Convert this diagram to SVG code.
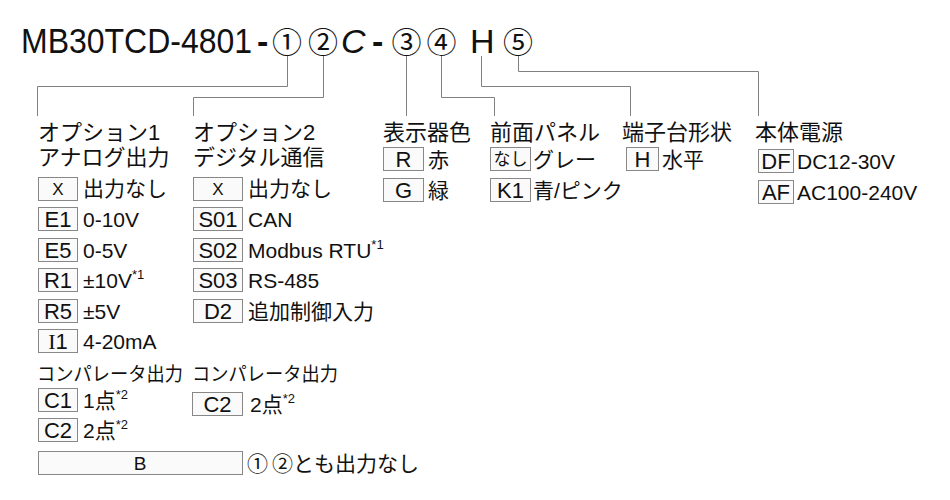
<svg xmlns="http://www.w3.org/2000/svg" width="950" height="500" viewBox="0 0 950 500">
<style>
.t{font-family:"Liberation Sans","Noto Sans CJK JP",sans-serif;font-size:21px;fill:#111}
.h{font-family:"Liberation Sans","Noto Sans CJK JP",sans-serif;font-size:22px;fill:#111}
.ti{font-family:"Liberation Sans",sans-serif;font-size:34px;fill:#111}
.cn{font-family:"Noto Sans CJK JP",sans-serif;font-size:30px;fill:#111;text-anchor:middle}
.bx{fill:#fafafa;stroke:#888;stroke-width:1}
.bl{font-family:"Liberation Sans","Noto Sans CJK JP",sans-serif;font-size:22px;fill:#111;text-anchor:middle}
.sm{font-size:17px}
.cmp{font-size:19px}
.sup{font-size:13px}
.ln{fill:none;stroke:#808080;stroke-width:1}
</style>
<rect width="950" height="500" fill="#fff"/>
<g id="title">
<text class="ti" x="0" y="0" style="font-size:32px" transform="translate(21,53) scale(1,1.1)">MB30TCD-4801</text>
<text class="ti" x="257" y="53" font-weight="bold">-</text>
<text class="cn" x="287" y="53">①</text>
<text class="cn" x="323" y="53">②</text>
<text class="ti" x="341" y="53" font-style="italic">C</text>
<text class="ti" x="372" y="53" font-weight="bold">-</text>
<text class="cn" x="406.5" y="53">③</text>
<text class="cn" x="441.5" y="53">④</text>
<text class="ti" x="470" y="53">H</text>
<text class="cn" x="518" y="53">⑤</text>
</g>
<g id="connectors">
<path class="ln" d="M287.5,56 V86.5 H37.5 V116"/>
<path class="ln" d="M323.5,56 V97.5 H193.5 V116"/>
<path class="ln" d="M406.5,56 V116"/>
<path class="ln" d="M441.5,56 V97.5 H494.5 V116"/>
<path class="ln" d="M481.5,56 V86.5 H630.5 V116"/>
<path class="ln" d="M518.5,56 V71.5 H758.5 V116"/>
</g>
<g id="opt1">
<text class="h" x="38" y="140">オプション1</text>
<text class="h" x="38" y="165">アナログ出力</text>
<rect class="bx" x="38.5" y="177.5" width="39" height="23"/><text class="bl sm" x="58" y="195">X</text><text class="t" x="83" y="196">出力なし</text>
<rect class="bx" x="38.5" y="207.5" width="39" height="23"/><text class="bl" x="58" y="227">E1</text><text class="t" x="83" y="227">0-10V</text>
<rect class="bx" x="38.5" y="238.5" width="39" height="23"/><text class="bl" x="58" y="258">E5</text><text class="t" x="83" y="258">0-5V</text>
<rect class="bx" x="38.5" y="268.5" width="39" height="23"/><text class="bl" x="58" y="288">R1</text><text class="t" x="83" y="288">±10V<tspan class="sup" dy="-9">*1</tspan></text>
<rect class="bx" x="38.5" y="299.5" width="39" height="23"/><text class="bl" x="58" y="319">R5</text><text class="t" x="83" y="319">±5V</text>
<rect class="bx" x="38.5" y="329.5" width="39" height="23"/><text class="bl" x="58" y="349"><tspan style="font-family:'Liberation Serif',serif">I</tspan>1</text><text class="t" x="83" y="349">4-20mA</text>
<text class="t cmp" x="37" y="381" textLength="146" lengthAdjust="spacingAndGlyphs">コンパレータ出力</text>
<rect class="bx" x="38.5" y="388.5" width="39" height="23"/><text class="bl" x="58" y="408">C1</text><text class="t" x="83" y="408">1点<tspan class="sup" dy="-9">*2</tspan></text>
<rect class="bx" x="38.5" y="418.5" width="39" height="23"/><text class="bl" x="58" y="438">C2</text><text class="t" x="83" y="438">2点<tspan class="sup" dy="-9">*2</tspan></text>
<rect class="bx" x="38.5" y="451.5" width="204" height="23"/><text class="bl cmp" x="140" y="470">B</text>
<text class="t" x="247" y="471">①<tspan dx="4">②とも出力なし</tspan></text>
</g>
<g id="opt2">
<text class="h" x="193" y="140">オプション2</text>
<text class="h" x="193" y="165">デジタル通信</text>
<rect class="bx" x="193.5" y="177.5" width="49" height="23"/><text class="bl sm" x="218" y="195">X</text><text class="t" x="248" y="196">出力なし</text>
<rect class="bx" x="193.5" y="207.5" width="49" height="23"/><text class="bl" x="218" y="227">S01</text><text class="t" x="248" y="227">CAN</text>
<rect class="bx" x="193.5" y="238.5" width="49" height="23"/><text class="bl" x="218" y="258">S02</text><text class="t" x="248" y="258">Modbus RTU<tspan class="sup" dy="-9">*1</tspan></text>
<rect class="bx" x="193.5" y="268.5" width="49" height="23"/><text class="bl" x="218" y="288">S03</text><text class="t" x="248" y="288">RS-485</text>
<rect class="bx" x="193.5" y="299.5" width="49" height="23"/><text class="bl" x="218" y="319">D2</text><text class="t" x="248" y="319">追加制御入力</text>
<text class="t cmp" x="192" y="381" textLength="146" lengthAdjust="spacingAndGlyphs">コンパレータ出力</text>
<rect class="bx" x="192.5" y="392.5" width="50" height="23"/><text class="bl" x="217.5" y="412">C2</text><text class="t" x="250" y="412">2点<tspan class="sup" dy="-9">*2</tspan></text>
</g>
<g id="display">
<text class="h" x="383" y="140">表示器色</text>
<rect class="bx" x="383.5" y="147.5" width="40" height="23"/><text class="bl" x="403.5" y="167">R</text><text class="t" x="428" y="167">赤</text>
<rect class="bx" x="383.5" y="178.5" width="40" height="23"/><text class="bl" x="403.5" y="198">G</text><text class="t" x="428" y="198">緑</text>
</g>
<g id="panel">
<text class="h" x="490" y="140">前面パネル</text>
<rect class="bx" x="490.5" y="147.5" width="40" height="23"/><text class="bl sm" x="510.5" y="165" textLength="34" lengthAdjust="spacingAndGlyphs">なし</text><text class="t" x="533" y="167">グレー</text>
<rect class="bx" x="490.5" y="178.5" width="40" height="23"/><text class="bl" x="510.5" y="198">K1</text><text class="t" x="533" y="198">青/ピンク</text>
</g>
<g id="terminal">
<text class="h" x="622" y="140">端子台形状</text>
<rect class="bx" x="626.5" y="147.5" width="32" height="23"/><text class="bl" x="642.5" y="167">H</text><text class="t" x="662" y="167">水平</text>
</g>
<g id="power">
<text class="h" x="755" y="140">本体電源</text>
<rect class="bx" x="758.5" y="149.5" width="35" height="23"/><text class="bl" x="776" y="169">DF</text><text class="t" x="797" y="169">DC12-30V</text>
<rect class="bx" x="758.5" y="180.5" width="35" height="23"/><text class="bl" x="776" y="200">AF</text><text class="t" x="797" y="200">AC100-240V</text>
</g>
</svg>
